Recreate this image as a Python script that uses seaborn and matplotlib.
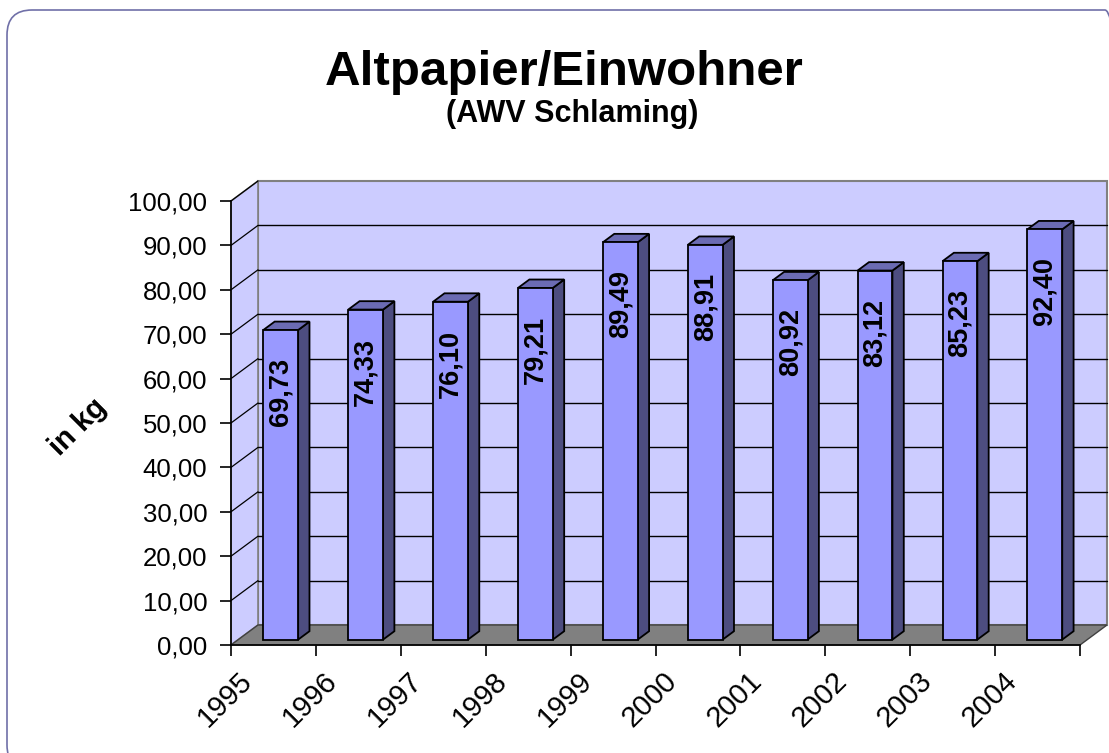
import matplotlib
matplotlib.use("Agg")
import matplotlib.pyplot as plt
import seaborn as sns
from matplotlib.patches import Polygon, FancyBboxPatch
from matplotlib.transforms import ScaledTranslation

# data
years = ["1995", "1996", "1997", "1998", "1999", "2000", "2001", "2002", "2003", "2004"]
values = [69.73, 74.33, 76.10, 79.21, 89.49, 88.91, 80.92, 83.12, 85.23, 92.40]
y_ticks = [0, 10, 20, 30, 40, 50, 60, 70, 80, 90, 100]

WALL = "#CCCCFF"
FLOOR = "#808080"
FRONT = "#9999FF"
SIDE = "#4D4D80"
TOP = "#6B6BB3"
EDGE = "#808080"


def de(v):
    return f"{v:.2f}".replace(".", ",")


sns.set_theme(style="white")
plt.rcParams["font.family"] = ["Liberation Sans", "DejaVu Sans"]
plt.rcParams["text.color"] = "black"
plt.rcParams["xtick.color"] = "black"
plt.rcParams["ytick.color"] = "black"

fig = plt.figure(figsize=(11.09, 7.53), dpi=100)
ax = fig.add_axes([231 / 1109, 108 / 753, 849 / 1109, 444 / 753])

sns.barplot(x=years, y=values, color=FRONT, saturation=1, width=0.41,
            edgecolor="black", linewidth=1.3, ax=ax, zorder=3)
ax.set_xlim(-0.5, len(years) - 0.5)
ax.set_ylim(0, 100)
ax.set_xlabel("")
ax.set_ylabel("")
ax.patch.set_visible(False)

# depth of the fake 3d box, converted to data units
px_x = ax.bbox.width / len(years)
px_y = ax.bbox.height / 100
dx = 27 / px_x
dy = 20 / px_y
f = 0.27   # bar front sits this far back
d = 0.42   # bar depth
x0, x1 = ax.get_xlim()

# walls and floor
ax.add_patch(Polygon([(x0 + dx, dy), (x1 + dx, dy), (x1 + dx, 100 + dy), (x0 + dx, 100 + dy)],
                     closed=True, facecolor=WALL, edgecolor=EDGE, lw=1.5, zorder=0.5, clip_on=False))
ax.add_patch(Polygon([(x0, 0), (x0 + dx, dy), (x0 + dx, 100 + dy), (x0, 100)],
                     closed=True, facecolor=WALL, edgecolor=EDGE, lw=1.2, zorder=0.5, clip_on=False))
for t in y_ticks[1:-1]:
    ax.plot([x0 + dx, x1 + dx], [t + dy, t + dy], color="black", lw=1, zorder=0.6, clip_on=False)
for t in y_ticks[1:]:
    ax.plot([x0, x0 + dx], [t, t + dy], color="black", lw=0.9, zorder=0.6, clip_on=False)
ax.add_patch(Polygon([(x0, 0), (x1, 0), (x1 + dx, dy), (x0 + dx, dy)],
                     closed=True, facecolor=FLOOR, edgecolor="#404040", lw=1, zorder=0.7, clip_on=False))

# bars: move fronts back, add side and top faces, labels
for patch, v in zip(list(ax.patches)[:len(values)], values):
    xl = patch.get_x() + f * dx
    w = patch.get_width()
    h = patch.get_height()
    yb = f * dy
    patch.set_x(xl)
    patch.set_y(yb)
    xr = xl + w
    ax.add_patch(Polygon([(xr, yb), (xr + d * dx, yb + d * dy), (xr + d * dx, yb + h + d * dy), (xr, yb + h)],
                         closed=True, facecolor=SIDE, edgecolor="black", lw=1.3, zorder=2.9))
    ax.add_patch(Polygon([(xl, yb + h), (xr, yb + h), (xr + d * dx, yb + h + d * dy), (xl + d * dx, yb + h + d * dy)],
                         closed=True, facecolor=TOP, edgecolor="black", lw=1.3, zorder=2.9, clip_on=False))
    ax.annotate(de(v), xy=(xl + w / 2, yb + h), xytext=(0, -44.6), textcoords="offset points",
                rotation=90, ha="center", va="center", fontsize=19.5, fontweight="bold", zorder=4)

# axes and ticks
for s in ["top", "right"]:
    ax.spines[s].set_visible(False)
for s in ["left", "bottom"]:
    ax.spines[s].set_color("black")
    ax.spines[s].set_linewidth(1.2)
    ax.spines[s].set_zorder(2)
ax.set_yticks(y_ticks, labels=[de(t) for t in y_ticks])
ax.set_xticks([i - 0.5 for i in range(len(years) + 1)], labels=[""] * (len(years) + 1))
ax.tick_params(axis="y", left=True, length=8, width=1.2, color="black", labelsize=18.5, pad=9)
ax.tick_params(axis="x", bottom=True, length=8, width=1.2, color="black")

shift = ScaledTranslation(0.17, -0.32, fig.dpi_scale_trans)
for i, yr in enumerate(years):
    ax.text(i - 0.5, 0, yr, transform=ax.transData + shift, rotation=45, rotation_mode="anchor",
            ha="right", va="center", fontsize=21)

# titles
fig.text(564 / 1109, 1 - 85 / 753, "Altpapier/Einwohner", ha="center", va="baseline",
         fontsize=35.5, fontweight="bold")
fig.text(572 / 1109, 1 - 122 / 753, "(AWV Schlaming)", ha="center", va="baseline",
         fontsize=22, fontweight="bold")
fig.text(78 / 1109, 1 - 427 / 753, "in kg", rotation=45, ha="center", va="center",
         fontsize=21, fontweight="bold")

# rounded chart frame
fig.add_artist(FancyBboxPatch((0.07, -0.17), 11.23, 7.60, boxstyle="round,pad=0,rounding_size=0.25",
                              transform=fig.dpi_scale_trans, facecolor="none",
                              edgecolor="#7070A8", lw=1.2))

fig.savefig("out.png", dpi=100, facecolor="white")
